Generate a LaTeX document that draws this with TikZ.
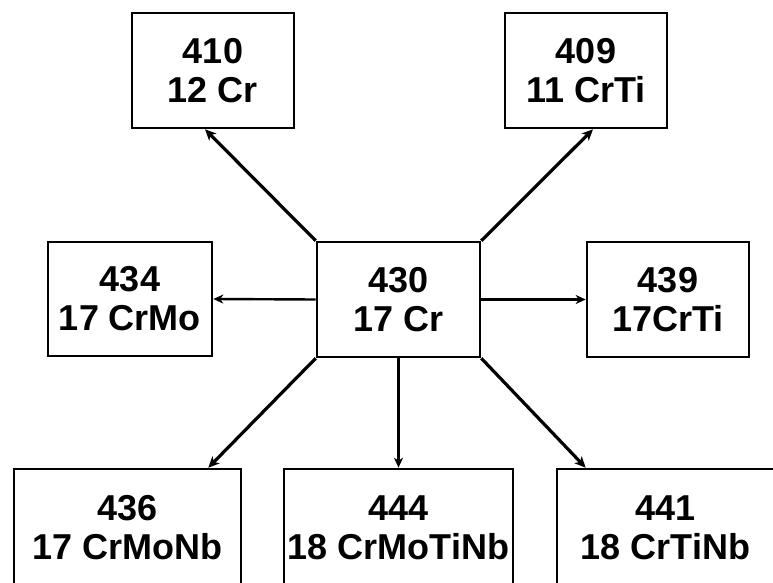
\documentclass[tikz,border=0pt]{standalone}
\usepackage{fontspec}
\setmainfont{Liberation Sans}
\usetikzlibrary{arrows.meta}
\begin{document}
\begin{tikzpicture}[x=1pt,y=-1pt,
  box/.style={draw=black,line width=2.6pt,fill=white,inner sep=0pt,align=center,
    font=\fontsize{36}{39}\selectfont\bfseries},
  diag/.style={line width=3.2pt,-{Stealth[length=11pt,width=10pt,inset=3pt]}},
  straight/.style={line width=2.4pt,-{Stealth[length=10pt,width=9pt,inset=3pt]}}]
\useasboundingbox (0,0) rectangle (773,583);
\clip (0,0) rectangle (773,583);
\fill[white] (0,0) rectangle (773,583);
\node[box,minimum width=162pt,minimum height=115pt] (n410) at (213,70.5) {410\\12 Cr};
\node[box,minimum width=162pt,minimum height=115pt] (n409) at (586,70.5) {409\\11 CrTi};
\node[box,minimum width=164pt,minimum height=114pt] (n434) at (130,299) {434\\17 CrMo};
\node[box,minimum width=163pt,minimum height=115pt] (c) at (398.5,299.5) {430\\17 Cr};
\node[box,minimum width=162pt,minimum height=115pt] (n439) at (668,299.5) {439\\17CrTi};
\node[box,minimum width=227pt,minimum height=117pt] (n436) at (127.5,527.5) {436\\17 CrMoNb};
\node[box,minimum width=229pt,minimum height=117pt] (n444) at (398.5,527.5) {444\\18 CrMoTiNb};
\node[box,minimum width=217pt,minimum height=117pt] (n441) at (665.5,527.5) {441\\18 CrTiNb};
\draw[diag] (c.north west) -- ([xshift=-8pt]n410.south);
\draw[diag] (c.north east) -- ([xshift=7pt]n409.south);
\draw[straight] (c.west) -- (n434.east);
\draw[straight] (c.east) -- (n439.west);
\draw[diag] (c.south west) -- ([xshift=-34pt]n436.north east);
\draw[straight] (c.south) -- (n444.north);
\draw[diag] (c.south east) -- ([xshift=30pt]n441.north west);
\end{tikzpicture}
\end{document}
